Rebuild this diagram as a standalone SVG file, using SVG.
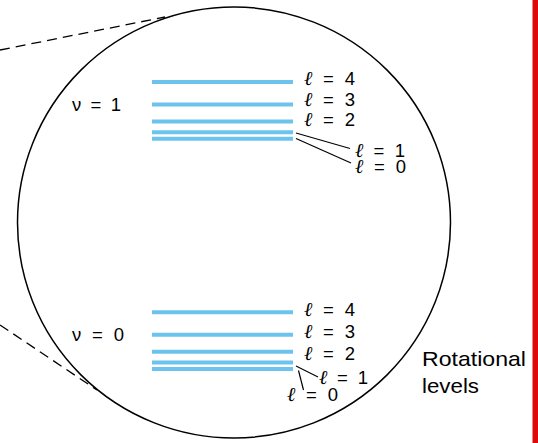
<svg xmlns="http://www.w3.org/2000/svg" width="538" height="443" viewBox="0 0 538 443">
<style>
.lvl{stroke:#6cc4ee;stroke-width:4;fill:none}
.ld{stroke:#000;stroke-width:1.2;fill:none}
.dash{stroke:#000;stroke-width:1.3;stroke-dasharray:10 6;fill:none}
text{font-family:"Liberation Sans",Arial,sans-serif;font-size:18.5px;fill:#000}
.ell{font-family:"Liberation Serif","DejaVu Serif",serif;font-style:italic;font-size:20px}
.big{font-size:21px}
</style>
<rect x="0" y="0" width="538" height="443" fill="#fff"/>
<rect x="532.5" y="0" width="5.5" height="443" fill="#dd0a0a"/>
<g id="connectors">
<line class="dash" x1="0" y1="50" x2="165" y2="17"/>
<line class="dash" x1="0" y1="325" x2="97" y2="390"/>
<line class="ld" x1="296" y1="133" x2="350" y2="148.5"/>
<line class="ld" x1="296" y1="138.5" x2="351" y2="163"/>
<line class="ld" x1="296" y1="366" x2="318" y2="377"/>
<line class="ld" x1="298.5" y1="370.5" x2="303.5" y2="390"/>
</g>
<g id="circle"><ellipse cx="234" cy="222.5" rx="216.5" ry="215.5" fill="none" stroke="#000" stroke-width="1.5"/></g>
<g id="v1">
<text x="72" y="111" textLength="49">ν = 1</text>
<line class="lvl" x1="152" y1="82" x2="293" y2="82"/>
<line class="lvl" x1="152" y1="104.5" x2="293" y2="104.5"/>
<line class="lvl" x1="152" y1="121.5" x2="293" y2="121.5"/>
<line class="lvl" x1="152" y1="132.3" x2="293" y2="132.3"/>
<line class="lvl" x1="152" y1="138.7" x2="293" y2="138.7"/>
<text x="304" y="85" textLength="51"><tspan class="ell">ℓ</tspan> = 4</text>
<text x="304" y="106" textLength="51"><tspan class="ell">ℓ</tspan> = 3</text>
<text x="304" y="126" textLength="51"><tspan class="ell">ℓ</tspan> = 2</text>
<text x="355" y="156.5" textLength="50"><tspan class="ell">ℓ</tspan> = 1</text>
<text x="355" y="173" textLength="51"><tspan class="ell">ℓ</tspan> = 0</text>
</g>
<g id="v0">
<text x="72" y="341" textLength="52">ν = 0</text>
<line class="lvl" x1="152" y1="312.3" x2="293" y2="312.3"/>
<line class="lvl" x1="152" y1="334.7" x2="293" y2="334.7"/>
<line class="lvl" x1="152" y1="351.7" x2="293" y2="351.7"/>
<line class="lvl" x1="152" y1="362.5" x2="293" y2="362.5"/>
<line class="lvl" x1="152" y1="369" x2="293" y2="369"/>
<text x="304" y="315.5" textLength="51"><tspan class="ell">ℓ</tspan> = 4</text>
<text x="304" y="337.5" textLength="51"><tspan class="ell">ℓ</tspan> = 3</text>
<text x="304" y="359.5" textLength="51"><tspan class="ell">ℓ</tspan> = 2</text>
<text x="319" y="384" textLength="49"><tspan class="ell">ℓ</tspan> = 1</text>
<text x="287" y="400.5" textLength="51"><tspan class="ell">ℓ</tspan> = 0</text>
</g>
<g id="rot">
<text class="big" x="422" y="366" textLength="104" lengthAdjust="spacingAndGlyphs">Rotational</text>
<text class="big" x="422" y="393" textLength="57" lengthAdjust="spacingAndGlyphs">levels</text>
</g>
</svg>
